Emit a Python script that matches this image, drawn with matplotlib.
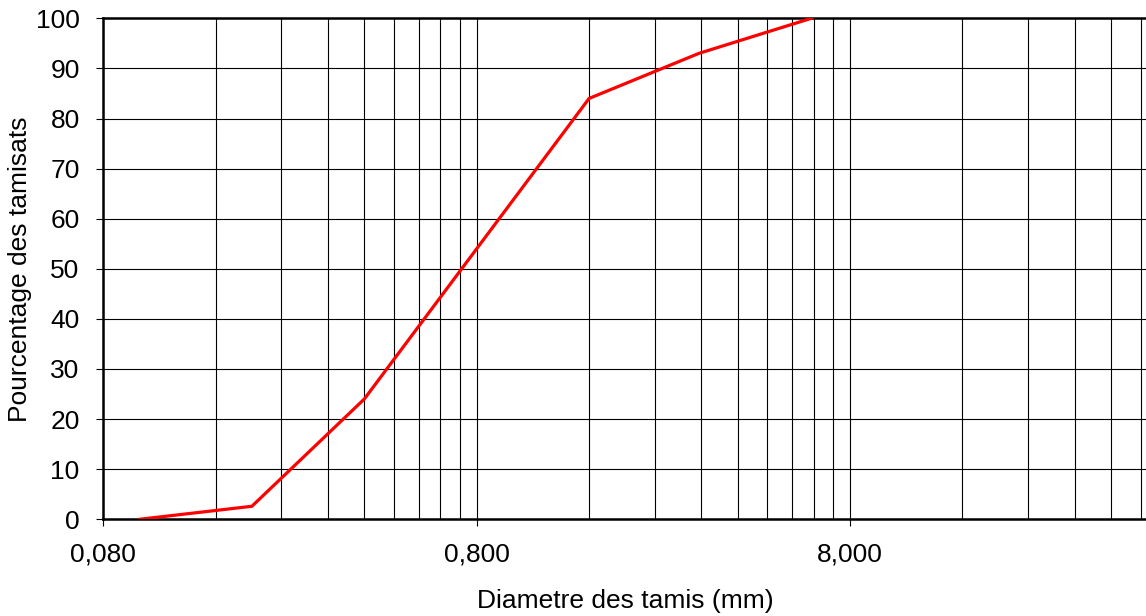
import matplotlib.pyplot as plt
from matplotlib.ticker import FixedLocator, FixedFormatter, NullFormatter

plt.rcParams['font.family'] = ['Liberation Sans', 'DejaVu Sans']

# sieve openings (mm) and cumulative passing (%)
diametres = [0.1, 0.2, 0.4, 1.6, 3.15, 6.3]
tamisats = [0, 2.6, 24, 84, 93, 100]

major_ticks = [0.08, 0.8, 8]
major_labels = ['0,080', '0,800', '8,000']
minor_ticks = [0.08 * k for k in range(2, 10)] + [0.8 * k for k in range(2, 10)] + [8 * k for k in range(2, 7)]
y_ticks = list(range(0, 101, 10))

W, H = 1146, 616
fig = plt.figure(figsize=(W / 100, H / 100), dpi=100)
ax = fig.add_axes([103.3 / W, (H - 519.3) / H, (1147.2 - 103.3) / W, (519.3 - 18.3) / H])

ax.set_xscale('log')
ax.set_xlim(0.08, 50)
ax.set_ylim(0, 100)

ax.xaxis.set_major_locator(FixedLocator(major_ticks))
ax.xaxis.set_major_formatter(FixedFormatter(major_labels))
ax.xaxis.set_minor_locator(FixedLocator(minor_ticks))
ax.xaxis.set_minor_formatter(NullFormatter())
ax.set_yticks(y_ticks)

ax.grid(True, which='both', axis='x', color='black', linewidth=0.8)
ax.grid(True, which='major', axis='y', color='black', linewidth=0.8)
ax.set_axisbelow(True)

ax.plot(diametres, tamisats, color='#ff0000', linewidth=2.3, solid_joinstyle='miter', zorder=3)

for side in ['left', 'bottom', 'top']:
    ax.spines[side].set_linewidth(1.8)
ax.spines['right'].set_visible(False)

ax.tick_params(axis='both', which='major', direction='out', length=5, width=0.8, labelsize=19)
ax.tick_params(axis='x', which='minor', length=0)
ax.tick_params(axis='y', pad=12)
ax.tick_params(axis='x', pad=12)

ax.set_xlabel('Diametre des tamis (mm)', fontsize=19, labelpad=16)
ax.set_ylabel('Pourcentage des tamisats', fontsize=19, labelpad=3)

fig.savefig('out.png', dpi=100)
